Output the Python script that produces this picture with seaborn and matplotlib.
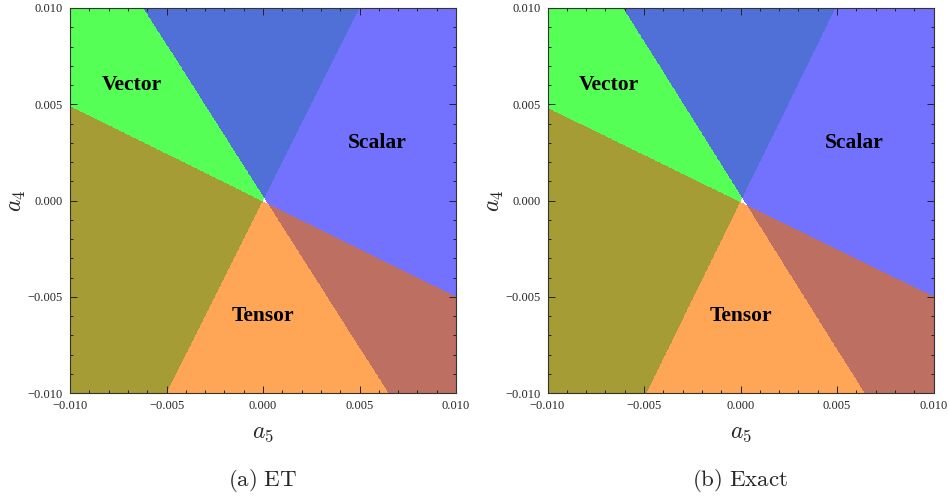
import numpy as np
import matplotlib
matplotlib.use("Agg")
import matplotlib.pyplot as plt
from matplotlib.colors import ListedColormap
from matplotlib.ticker import MultipleLocator, FuncFormatter
import seaborn as sns

# ---- data ----
# each boundary line passes through the origin; given by where it meets the frame
panels = ["ET", "Exact"]
panel_tags = ["(a)", "(b)"]
vector_line = [[(-0.005, -0.010), (0.005, 0.010)],
               [(-0.0049, -0.010), (0.0049, 0.010)]]
scalar_line = [[(-0.0062, 0.010), (0.0065, -0.010)],
               [(-0.0061, 0.010), (0.0064, -0.010)]]
tensor_line = [[(-0.010, 0.0049), (0.010, -0.0050)],
               [(-0.010, 0.0048), (0.010, -0.0050)]]
# a reference point lying inside each region
vector_inside = (-0.010, 0.0)
scalar_inside = (0.010, 0.0)
tensor_inside = (0.0, -0.010)
region_names = ["Vector", "Scalar", "Tensor"]
label_pos = {"Vector": (-0.0068, 0.0060), "Scalar": (0.0059, 0.0030), "Tensor": (0.0, -0.0060)}
a_range = (-0.010, 0.010)

# colours for: none, V, S, V+S, T, V+T, S+T
combo_colors = ["#FFFFFF", "#56FF56", "#7272FF", "#5070D8",
                "#FFA656", "#A59C36", "#BD6F62", "#808080"]

sns.set_theme(style="ticks")
plt.rcParams["font.family"] = ["Liberation Serif", "DejaVu Serif"]
plt.rcParams["mathtext.fontset"] = "cm"
plt.rcParams["axes.unicode_minus"] = True

fig = plt.figure(figsize=(9.5, 4.96), dpi=100)
lefts = [70 / 950, 547.5 / 950]

n = 900
g = np.linspace(a_range[0], a_range[1], n)
A5, A4 = np.meshgrid(g, g)


def side(line, x, y):
    (x1, y1), (x2, y2) = line
    return np.sign((x2 - x1) * (y - y1) - (y2 - y1) * (x - x1))


for i, name in enumerate(panels):
    ax = fig.add_axes([lefts[i], (496 - 393) / 496, 386 / 950, 385 / 496])
    code = np.zeros_like(A5, dtype=int)
    for bit, line, inside in [(1, vector_line[i], vector_inside),
                              (2, scalar_line[i], scalar_inside),
                              (4, tensor_line[i], tensor_inside)]:
        s_ref = side(line, *inside)
        mask = side(line, A5, A4) == s_ref
        code += bit * mask
    ax.imshow(code, origin="lower", extent=[a_range[0], a_range[1], a_range[0], a_range[1]],
              cmap=ListedColormap(combo_colors), vmin=-0.5, vmax=7.5,
              interpolation="nearest", aspect="auto")
    ax.set_xlim(*a_range)
    ax.set_ylim(*a_range)
    for rn in region_names:
        x, y = label_pos[rn]
        ax.text(x, y, rn, ha="center", va="center", fontsize=15.5,
                fontweight="bold", color="black")
    ax.xaxis.set_major_locator(MultipleLocator(0.005))
    ax.yaxis.set_major_locator(MultipleLocator(0.005))
    ax.xaxis.set_minor_locator(MultipleLocator(0.001))
    ax.yaxis.set_minor_locator(MultipleLocator(0.001))
    fmt = FuncFormatter(lambda v, p: ("\u2212" if v < -1e-12 else "") + f"{abs(v):.3f}")
    ax.xaxis.set_major_formatter(fmt)
    ax.yaxis.set_major_formatter(fmt)
    ax.tick_params(which="both", direction="in", top=True, right=True,
                   labelsize=9, color="#222222", width=0.7)
    ax.tick_params(axis="x", which="major", pad=5)
    ax.tick_params(axis="y", which="major", pad=5)
    ax.tick_params(which="major", length=5)
    ax.tick_params(which="minor", length=2.5)
    for sp in ax.spines.values():
        sp.set_linewidth(0.8)
        sp.set_color("#333333")
    ax.set_xlabel(r"$a_5$", fontsize=17)
    ax.set_ylabel(r"$a_4$", fontsize=17)
    ax.xaxis.set_label_coords(0.5, -40 / 385, transform=ax.transAxes)
    ax.yaxis.set_label_coords(-52 / 386, 0.5, transform=ax.transAxes)
    ax.xaxis.label.set_va("center")
    ax.yaxis.label.set_va("center")
    cx = lefts[i] + 386 / 950 / 2
    fig.text(cx, 1 - 481 / 496, r"$\mathrm{" + panel_tags[i] + r"\ " + name + "}$",
             ha="center", va="center", fontsize=16.5)

fig.savefig("out.png", dpi=100)
